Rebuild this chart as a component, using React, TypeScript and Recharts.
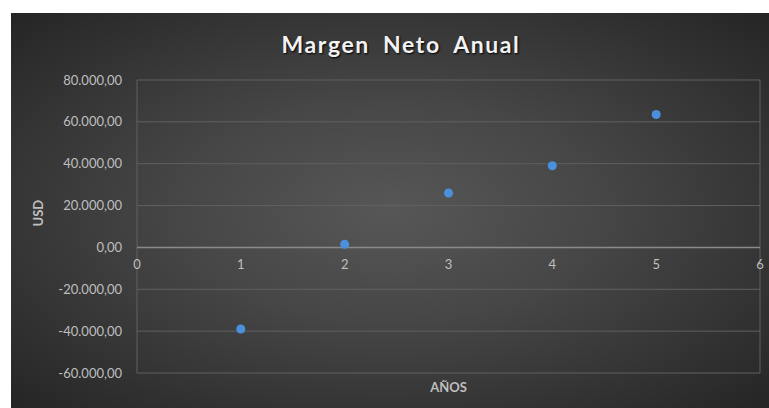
import { ScatterChart, Scatter, XAxis, YAxis, ZAxis, CartesianGrid, ReferenceLine, ReferenceDot } from 'recharts';

const years = [1, 2, 3, 4, 5];
const netMargin = [-39000, 1500, 26000, 39000, 63500];
const xTicks = [0, 1, 2, 3, 4, 5, 6];
const yTicks = [-60000, -40000, -20000, 0, 20000, 40000, 60000, 80000];

const data = years.map((y, i) => ({ year: y, value: netMargin[i] }));

function fmt(v: number) {
  const neg = v < 0;
  const [i, d] = Math.abs(v).toFixed(2).split('.');
  return (neg ? '-' : '') + i.replace(/\B(?=(\d{3})+(?!\d))/g, '.') + ',' + d;
}

const labelColor = '#bfbfbf';

export default function App() {
  return (
    <div
      style={{
        position: 'absolute',
        left: 11,
        top: 13,
        width: 758,
        height: 395,
        fontFamily: 'Lato, "Noto Sans", sans-serif',
        background: 'radial-gradient(ellipse at 50% 50%, #575757 0%, #464646 40%, #252525 100%)',
      }}
    >
      <div
        style={{
          position: 'absolute',
          left: 0,
          width: 780,
          top: 17,
          textAlign: 'center',
          color: '#f2f2f2',
          fontWeight: 700,
          fontSize: 23,
          letterSpacing: 1.6,
          wordSpacing: 6,
          textShadow: '1px 1px 2px #000',
        }}
      >
        Margen Neto Anual
      </div>
      <ScatterChart width={758} height={395} margin={{ top: 67, right: 9, left: 0, bottom: 0 }}>
        <CartesianGrid stroke="#606060" strokeWidth={1} />
        <XAxis
          type="number"
          dataKey="year"
          domain={[0, 6]}
          ticks={xTicks}
          tick={false}
          axisLine={false}
          tickLine={false}
          height={35}
          label={{ value: 'AÑOS', position: 'insideBottom', offset: 16, fill: labelColor, fontSize: 13, fontWeight: 700 }}
        />
        <YAxis
          type="number"
          dataKey="value"
          domain={[-60000, 80000]}
          ticks={yTicks}
          tickFormatter={fmt}
          axisLine={false}
          tickLine={false}
          tickSize={0}
          tickMargin={15}
          width={126}
          tick={{ fill: labelColor, fontSize: 13 }}
          label={{ value: 'USD', angle: -90, position: 'insideLeft', offset: 27, fill: labelColor, fontSize: 13, fontWeight: 700 }}
        />
        <ZAxis range={[90, 90]} />
        <ReferenceLine y={0} stroke="#8a8a8a" strokeWidth={1.5} />
        {xTicks.map((t) => (
          <ReferenceDot
            key={t}
            x={t}
            y={0}
            r={0}
            stroke="none"
            fill="none"
            label={{ value: String(t), position: 'bottom', offset: 12, fill: labelColor, fontSize: 13 }}
          />
        ))}
        <Scatter data={data} fill="#4a90dc" isAnimationActive={false} />
      </ScatterChart>
    </div>
  );
}
